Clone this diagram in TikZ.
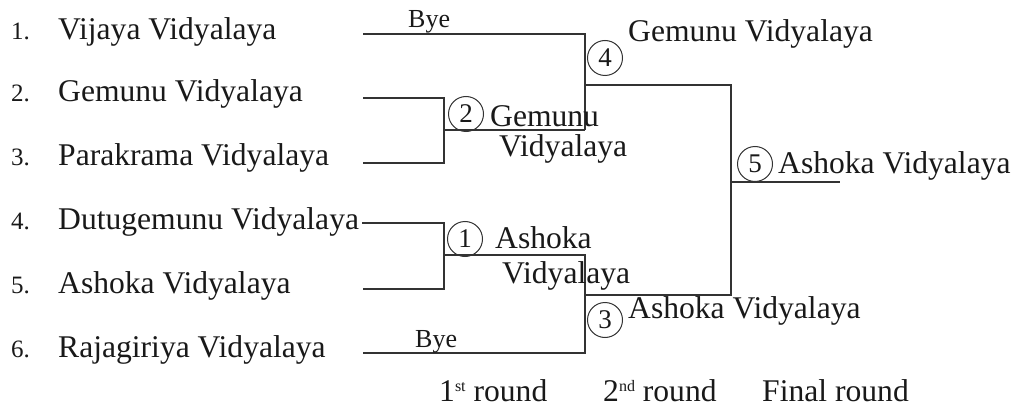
\documentclass[tikz,border=0pt]{standalone}
\usepackage{fontspec}
\setmainfont{Liberation Serif}
\newcommand{\supx}[1]{\raisebox{10pt}{\fontsize{16}{16}\selectfont #1}}
\begin{document}
\begin{tikzpicture}[x=1pt,y=-1pt,
  teamlbl/.style={anchor=base west,inner sep=0pt,text=black!90,font=\fontsize{31.6}{34}\selectfont},
  numlbl/.style={anchor=base west,inner sep=0pt,text=black!90,font=\fontsize{25}{27}\selectfont},
  byelab/.style={anchor=base west,inner sep=0pt,text=black!90,font=\fontsize{26}{28}\selectfont},
  circ/.style={circle,draw=black!80,line width=1pt,minimum size=35pt,inner sep=0pt,text=black!90,font=\fontsize{27}{29}\selectfont},
  wire/.style={draw=black!80,line width=1.3pt}]
\useasboundingbox (0,0) rectangle (1016,406);
% team list
\node[numlbl] (k1) at (11,40) {1.};
\node[numlbl] (k2) at (11,102) {2.};
\node[numlbl] (k3) at (11,165) {3.};
\node[numlbl] (k4) at (11,229) {4.};
\node[numlbl] (k5) at (11,293) {5.};
\node[numlbl] (k6) at (11,357) {6.};
\node[teamlbl] (n1) at (58,40) {Vijaya Vidyalaya};
\node[teamlbl] (n2) at (58,102) {Gemunu Vidyalaya};
\node[teamlbl] (n3) at (58,165) {Parakrama Vidyalaya};
\node[teamlbl] (n4) at (58,229) {Dutugemunu Vidyalaya};
\node[teamlbl] (n5) at (58,293) {Ashoka Vidyalaya};
\node[teamlbl] (n6) at (58,357) {Rajagiriya Vidyalaya};
% bracket points
\coordinate (a1) at (363,34);
\coordinate (a2) at (363,98);
\coordinate (a3) at (363,163);
\coordinate (a4) at (362,223);
\coordinate (a5) at (363,289);
\coordinate (a6) at (363,353);
\coordinate (b23t) at (444,98);
\coordinate (b23b) at (444,163);
\coordinate (b23m) at (444,130);
\coordinate (b45t) at (444,223);
\coordinate (b45b) at (444,289);
\coordinate (b45m) at (444,255);
\coordinate (c4t) at (585,34);
\coordinate (c4b) at (585,130);
\coordinate (c4m) at (585,85);
\coordinate (c3t) at (585,255);
\coordinate (c3b) at (585,353);
\coordinate (c3m) at (585,295);
\coordinate (d5t) at (731,85);
\coordinate (d5b) at (731,295);
\coordinate (d5m) at (731,182);
\coordinate (e5) at (840,182);
% wires
\draw[wire] (a1) -- (c4t) -- (c4b);
\draw[wire] (a2) -- (b23t) -- (b23b) -- (a3);
\draw[wire] (b23m) -- (c4b);
\draw[wire] (a4) -- (b45t) -- (b45b) -- (a5);
\draw[wire] (b45m) -- (c3t) -- (c3b) -- (a6);
\draw[wire] (c4m) -- (d5t) -- (d5b) -- (c3m);
\draw[wire] (d5m) -- (e5);
% bye labels
\node[byelab] (bye1) at (408,28) {Bye};
\node[byelab] (bye2) at (415,347) {Bye};
% match circles and winners
\node[circ] (m2) at (466,114) {2};
\node[teamlbl] (w2a) at (490,127) {Gemunu};
\node[teamlbl] (w2b) at (499,157) {Vidyalaya};
\node[circ] (m1) at (465,239) {1};
\node[teamlbl] (w1a) at (495,248) {Ashoka};
\node[teamlbl] (w1b) at (502,283) {Vidyalaya};
\node[circ] (m4) at (605,58) {4};
\node[teamlbl] (w4) at (628,42) {Gemunu Vidyalaya};
\node[circ] (m3) at (605,320) {3};
\node[teamlbl] (w3) at (628,318) {Ashoka Vidyalaya};
\node[circ] (m5) at (755,164) {5};
\node[teamlbl] (w5) at (778,173) {Ashoka Vidyalaya};
% round labels
\node[teamlbl] (r1) at (439,401) {1\supx{st} round};
\node[teamlbl] (r2) at (603,401) {2\supx{nd} round};
\node[teamlbl] (r3) at (762,401) {Final round};
\end{tikzpicture}
\end{document}
